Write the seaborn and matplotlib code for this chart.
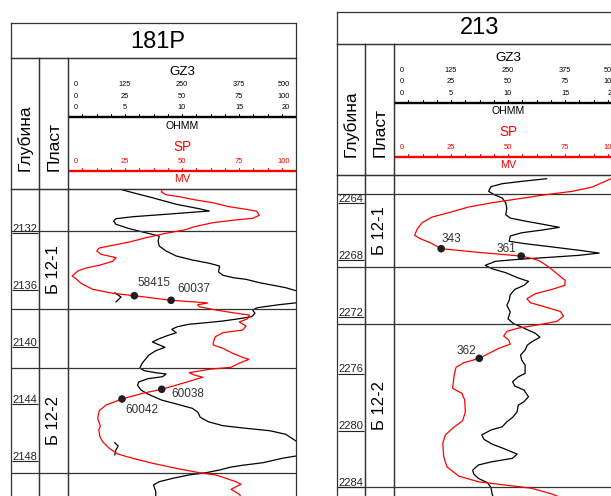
import matplotlib
matplotlib.use("Agg")
import matplotlib.pyplot as plt
import seaborn as sns

sns.set_theme(style="white")
plt.rcParams["font.family"] = ["Liberation Sans", "DejaVu Sans"]

# ---------------------------------------------------------------- well 181P
a_name = "181P"
a_depth_ticks = [2132, 2136, 2140, 2144, 2148]
a_zone_names = ["Б 12-1", "Б 12-2"]
a_zone_tops = [2131.88, 2141.47]
a_zone_bottoms = [2137.34, 2148.80]

a_gz_depth = [2128.92, 2129.20, 2129.55, 2130.01, 2130.32, 2130.48, 2130.71, 2130.88, 2131.02, 2131.18,
              2131.41, 2131.72, 2132.00, 2132.23, 2132.58, 2132.93, 2133.28, 2133.63, 2133.91, 2134.14,
              2134.33, 2134.75, 2134.98, 2135.15, 2135.26, 2135.50, 2135.68, 2135.85, 2136.08, 2136.45,
              2136.90, 2137.04, 2137.25, 2137.41, 2137.64, 2137.88, 2138.02, 2138.18, 2138.30, 2138.41,
              2138.58, 2138.76, 2139.00, 2139.18, 2139.42, 2139.65, 2140.02, 2140.26, 2140.56, 2141.14,
              2141.47, 2141.66, 2141.80, 2141.89, 2142.08, 2142.22, 2142.45, 2142.68, 2143.01, 2143.29,
              2143.71, 2144.01, 2144.29, 2144.57, 2144.92, 2145.23, 2145.51, 2145.69, 2145.86, 2146.11,
              2146.58, 2147.10, 2147.63, 2147.79, 2148.10, 2148.28, 2148.42, 2148.61, 2148.80, 2148.96,
              2149.19, 2149.43, 2149.66, 2150.13, 2150.60]
a_gz_ohmm = [4.4, 5.7, 7.4, 9.5, 11.5, 12.4, 8.6, 5.7, 4.2, 4.0,
             4.2, 5.4, 6.8, 8.0, 7.9, 8.0, 8.6, 9.5, 10.9, 12.4,
             13.3, 13.2, 13.6, 14.5, 15.6, 16.8, 18.0, 19.1, 20.1, 21.5,
             20.1, 18.5, 16.6, 16.2, 16.4, 16.1, 15.0, 13.6, 12.1, 10.6,
             9.6, 9.1, 9.5, 8.8, 8.0, 7.4, 8.5, 7.7, 7.1, 6.5,
             6.3, 6.7, 7.7, 8.6, 8.3, 7.0, 6.2, 6.1, 6.4, 7.0,
             8.2, 9.6, 10.9, 11.4, 11.6, 12.3, 13.6, 15.6, 17.7, 19.1,
             20.0, 21.5, 20.0, 18.8, 17.1, 15.3, 14.2, 13.3, 12.1, 10.6,
             9.2, 8.0, 7.5, 7.7, 7.7]

a_sp_depth = [2128.96, 2129.15, 2129.34, 2129.48, 2129.71, 2129.90, 2130.18, 2130.36, 2130.50, 2130.78,
              2130.99, 2131.13, 2131.30, 2131.58, 2131.81, 2132.04, 2132.35, 2132.65, 2132.88, 2133.07,
              2133.28, 2133.51, 2133.75, 2134.00, 2134.28, 2134.47, 2134.68, 2135.03, 2135.22, 2135.54,
              2135.96, 2136.24, 2136.41, 2136.73, 2136.87, 2136.92, 2137.04, 2137.18, 2137.41, 2137.60,
              2137.76, 2138.02, 2138.25, 2138.53, 2138.81, 2139.00, 2139.28, 2139.70, 2139.86, 2140.09,
              2140.44, 2140.72, 2140.86, 2141.14, 2141.42, 2141.56, 2141.80, 2141.96, 2142.12, 2142.54,
              2142.96, 2143.24, 2143.64, 2144.06, 2144.46, 2144.99, 2145.53, 2145.81, 2146.28, 2146.63,
              2147.09, 2147.49, 2147.79, 2148.14, 2148.49, 2148.80, 2148.96, 2149.43, 2149.61, 2149.96,
              2150.31, 2150.60]
a_sp_mv = [41.5, 40.9, 43.0, 48.8, 56.1, 63.5, 70.7, 78.1, 82.8, 83.9,
           81.0, 72.2, 63.5, 55.4, 51.0, 43.0, 34.2, 26.9, 19.6, 13.7,
           12.6, 14.5, 21.1, 19.6, 13.7, 7.9, 4.3, 1.8, 3.5, 5.7,
           10.8, 19.6, 29.1, 45.2, 57.6, 61.3, 56.9, 57.6, 64.9, 72.2,
           79.5, 78.8, 75.1, 78.1, 76.6, 67.9, 64.6, 63.7, 63.7, 67.9,
           72.2, 76.6, 79.3, 75.1, 71.5, 62.0, 53.2, 55.4, 59.1, 50.3,
           41.1, 32.8, 23.7, 16.7, 13.7, 13.0, 14.2, 13.5, 14.0, 15.2,
           18.1, 21.8, 28.4, 37.1, 47.4, 57.6, 64.9, 73.7, 75.9, 71.5,
           75.1, 76.5]

# short resistivity fragments next to the samples
a_frag1_depth = [2136.20, 2136.50, 2136.85]
a_frag1_ohmm = [4.1, 4.65, 4.2]
a_frag2_depth = [2146.70, 2146.93, 2147.21, 2147.56]
a_frag2_ohmm = [4.1, 4.4, 4.2, 4.1]

a_sample_ids = ["58415", "60037", "60038", "60042"]
a_sample_depth = [2136.41, 2136.73, 2142.96, 2143.64]
a_sample_sp = [29.1, 45.2, 41.1, 23.7]

# ---------------------------------------------------------------- well 213
b_name = "213"
b_depth_ticks = [2264, 2268, 2272, 2276, 2280, 2284]
b_zone_names = ["Б 12-1", "Б 12-2"]
b_zone_tops = [2263.39, 2272.51]
b_zone_bottoms = [2268.52, 2283.97]

b_gz_depth = [2262.29, 2262.45, 2262.64, 2262.85, 2263.18, 2263.42, 2263.65, 2263.98, 2264.40, 2264.82,
              2265.06, 2265.27, 2265.53, 2265.71, 2265.90, 2266.09, 2266.32, 2266.69, 2266.86, 2267.09,
              2267.35, 2267.52, 2267.68, 2267.82, 2267.96, 2268.10, 2268.38, 2268.62, 2268.90, 2269.27,
              2269.51, 2269.79, 2270.07, 2270.45, 2270.84, 2271.19, 2271.67, 2272.14, 2272.49, 2272.72,
              2273.02, 2273.16, 2273.44, 2273.75, 2273.99, 2274.34, 2274.69, 2275.04, 2275.39, 2275.98,
              2276.22, 2276.57, 2276.87, 2277.15, 2277.62, 2277.97, 2278.21, 2278.68, 2279.07, 2279.38,
              2279.73, 2279.96, 2280.31, 2280.62, 2280.95, 2281.32, 2281.65, 2281.95, 2282.19, 2282.42,
              2282.78, 2283.06, 2283.36, 2283.67, 2283.99, 2284.41, 2284.70]
b_gz_ohmm = [13.4, 11.5, 9.5, 8.5, 8.3, 8.8, 9.5, 9.8, 9.9, 9.8,
             10.2, 11.5, 13.3, 14.5, 13.0, 11.2, 10.2, 10.1, 11.5, 13.9,
             16.5, 18.0, 16.2, 13.6, 10.9, 8.9, 8.0, 8.6, 9.8, 10.9,
             11.8, 11.4, 10.6, 10.2, 10.1, 9.9, 10.2, 10.0, 10.5, 11.2,
             12.0, 12.4, 12.8, 12.1, 11.7, 11.5, 11.1, 11.2, 11.5, 11.5,
             10.9, 10.4, 10.6, 11.4, 11.8, 11.4, 10.9, 10.8, 10.4, 9.9,
             9.5, 8.5, 7.7, 7.9, 8.6, 9.8, 10.8, 10.4, 8.6, 7.4,
             6.9, 7.0, 7.4, 8.2, 8.5, 8.6, 8.7]

b_sp_depth = [2262.10, 2262.47, 2262.88, 2263.18, 2263.42, 2263.70, 2263.98, 2264.28, 2264.68, 2264.99,
              2265.39, 2265.85, 2266.27, 2266.51, 2266.79, 2267.21, 2267.45, 2267.73, 2267.96, 2268.10,
              2268.50, 2268.97, 2269.44, 2269.79, 2270.07, 2270.38, 2270.73, 2271.01, 2271.31, 2271.62,
              2271.95, 2272.32, 2272.56, 2272.79, 2273.02, 2273.35, 2273.63, 2273.92, 2274.22, 2274.92,
              2275.23, 2275.55, 2276.10, 2277.03, 2277.38, 2277.85, 2278.68, 2279.31, 2279.77, 2280.31,
              2280.90, 2281.84, 2282.54, 2283.20, 2283.60, 2283.83, 2284.06, 2284.46, 2284.70]
b_sp_mv = [98.0, 92.7, 86.8, 78.1, 66.4, 54.7, 43.0, 32.8, 24.0, 16.7,
           12.3, 10.1, 9.1, 11.5, 15.9, 20.7, 35.7, 55.8, 62.0, 64.2,
           67.9, 71.5, 75.1, 74.9, 69.3, 62.0, 58.3, 59.8, 66.4, 72.9,
           74.4, 71.5, 63.5, 54.7, 49.6, 48.1, 50.3, 51.0, 45.9, 37.4,
           30.6, 27.2, 26.4, 25.7, 29.8, 31.0, 31.3, 30.1, 26.2, 22.5,
           21.4, 21.8, 23.2, 28.4, 37.1, 48.8, 60.5, 69.3, 73.0]

b_sample_ids = ["343", "361", "362"]
b_sample_depth = [2267.21, 2267.73, 2274.92]
b_sample_sp = [20.7, 55.8, 37.4]

# scale annotations of the track header
gz_scale_rows = [["0", "125", "250", "375", "500"],
                 ["0", "25", "50", "75", "100"],
                 ["0", "5", "10", "15", "20"]]
sp_scale_row = ["0", "25", "50", "75", "100"]
GZ_MAX = 20.0
SP_MAX = 100.0

# ---------------------------------------------------------------- layout
FIG_W, FIG_H = 611, 496
LINE = "#333333"
RED = "#ff0000"
INK = "#1e1e1e"
COL_DEPTH, COL_ZONE, TRACK = 28.3, 28.7, 228.0

fig = plt.figure(figsize=(FIG_W / 100, FIG_H / 100), dpi=100)


def px_axes(x, y, w, h):
    ax = fig.add_axes([x / FIG_W, 1 - (y + h) / FIG_H, w / FIG_W, h / FIG_H])
    ax.set_xticks([])
    ax.set_yticks([])
    ax.set_facecolor("none")
    for sp in ax.spines.values():
        sp.set_color(LINE)
        sp.set_linewidth(0.9)
    return ax


def local(ax, w, h):
    ax.set_xlim(0, w)
    ax.set_ylim(h, 0)


def draw_track_header(ax, h):
    local(ax, TRACK, h)
    ax.text(TRACK / 2, 17, "GZ3", ha="center", va="baseline", fontsize=9.7, color="black")
    n = len(gz_scale_rows[0]) - 1
    for row, base in zip(gz_scale_rows, [27.8, 39.5, 51.0]):
        for i, lab in enumerate(row):
            x = i * TRACK / n
            if i == 0:
                ax.text(x + 5.5, base, lab, ha="left", va="baseline", fontsize=5.3, color="black")
            elif i == n:
                ax.text(x - 6, base, lab, ha="right", va="baseline", fontsize=5.3, color="black")
            else:
                ax.text(x, base, lab, ha="center", va="baseline", fontsize=5.3, color="black")
    for i, lab in enumerate(sp_scale_row):
        x = i * TRACK / n
        if i == 0:
            ax.text(x + 6, 104.7, lab, ha="left", va="baseline", fontsize=5.5, color=RED)
        elif i == n:
            ax.text(x - 6, 104.7, lab, ha="right", va="baseline", fontsize=5.5, color=RED)
        else:
            ax.text(x, 104.7, lab, ha="center", va="baseline", fontsize=5.5, color=RED)
    for y, col in [(58.8, "black"), (112.5, RED)]:
        ax.plot([0, TRACK], [y, y], color=col, lw=1.7, solid_capstyle="butt")
        for k in range(17):
            x = k * TRACK / 16
            ax.plot([x, x], [y, y - 3], color=col, lw=0.8)
    ax.text(TRACK / 2, 70.3, "OHMM", ha="center", va="baseline", fontsize=7.6, color="black")
    ax.text(TRACK / 2, 92.5, "SP", ha="center", va="baseline", fontsize=9.8, color=RED)
    ax.text(TRACK / 2, 124.2, "MV", ha="center", va="baseline", fontsize=7.8, color=RED)


def draw_well(left, top, title_h, header_bottom, title, title_dx, d_top, d_bottom,
              depth_ticks, zone_names, zone_tops, zone_bottoms,
              gz_depth, gz_ohmm, sp_depth, sp_mv,
              sample_ids, sample_depth, sample_sp, label_place, fragments=()):
    width = COL_DEPTH + COL_ZONE + TRACK
    x_zone = left + COL_DEPTH
    x_track = x_zone + COL_ZONE

    # title row
    ax_t = px_axes(left, top, width, title_h)
    local(ax_t, width, title_h)
    ax_t.text(width / 2 + title_dx, title_h - 10.3, title, ha="center", va="baseline",
              fontsize=17, color="black")

    # header row
    h_top = top + title_h
    hh = header_bottom - h_top
    ax_h1 = px_axes(left, h_top, COL_DEPTH, hh)
    local(ax_h1, COL_DEPTH, hh)
    ax_h1.text(COL_DEPTH / 2, hh - 18, "Глубина", rotation=90, ha="center", va="bottom",
               fontsize=12.5, color="black")
    ax_h2 = px_axes(x_zone, h_top, COL_ZONE, hh)
    local(ax_h2, COL_ZONE, hh)
    ax_h2.text(COL_ZONE / 2, hh - 18, "Пласт", rotation=90, ha="center", va="bottom",
               fontsize=12.5, color="black")
    ax_h3 = px_axes(x_track, h_top, TRACK, hh)
    draw_track_header(ax_h3, hh)

    # data rows
    dh = FIG_H - header_bottom
    ax_d = px_axes(left, header_bottom, COL_DEPTH, dh)
    ax_z = px_axes(x_zone, header_bottom, COL_ZONE, dh)
    ax_gz = px_axes(x_track, header_bottom, TRACK, dh)
    for ax in (ax_d, ax_z, ax_gz):
        ax.spines["bottom"].set_visible(False)

    ax_d.set_xlim(0, COL_DEPTH)
    ax_z.set_xlim(0, COL_ZONE)
    ax_gz.set_xlim(0, GZ_MAX)

    sns.lineplot(x=gz_ohmm, y=gz_depth, sort=False, estimator=None, color="black",
                 lw=0.9, ax=ax_gz)
    for f_depth, f_ohmm in fragments:
        sns.lineplot(x=f_ohmm, y=f_depth, sort=False, estimator=None, color="black",
                     lw=0.9, ax=ax_gz)

    ax_sp = ax_gz.twiny()
    ax_sp.set_xlim(0, SP_MAX)
    sns.lineplot(x=sp_mv, y=sp_depth, sort=False, estimator=None, color=RED, lw=0.9, ax=ax_sp)
    sns.scatterplot(x=sample_sp, y=sample_depth, color=INK, s=30, edgecolor="none",
                    zorder=5, ax=ax_sp)
    for sid, d, v, (ha, dx, dy) in zip(sample_ids, sample_depth, sample_sp, label_place):
        ax_sp.annotate(sid, (v, d), xytext=(dx, dy), textcoords="offset pixels",
                       ha=ha, va="baseline", fontsize=8.5, color="#333333")
    ax_sp.set_xticks([])
    for sp in ax_sp.spines.values():
        sp.set_visible(False)

    for ax in (ax_d, ax_z, ax_gz, ax_sp):
        ax.set_ylim(d_bottom, d_top)
        ax.set_xlabel("")
        ax.set_ylabel("")
        ax.set_yticks([])

    # zone boundaries and names
    for b in list(zone_tops) + list(zone_bottoms):
        for ax in (ax_d, ax_z, ax_gz):
            ax.axhline(b, color=LINE, lw=0.9)
    for name, zt, zb in zip(zone_names, zone_tops, zone_bottoms):
        ax_z.text(COL_ZONE / 2, (zt + zb) / 2, name, rotation=90, ha="center", va="center",
                  fontsize=12, color="black")

    # depth marks
    for d in depth_ticks:
        ax_d.hlines(d, 1.0, COL_DEPTH - 1.3, color="#222222", lw=0.8)
        ax_d.annotate(str(d), (1.0, d), xytext=(0, 1.2), textcoords="offset pixels",
                      ha="left", va="baseline", fontsize=8, color="#222222")


draw_well(11, 22.7, 35.6, 189, a_name, 4.7, 2128.94, 2150.43,
          a_depth_ticks, a_zone_names, a_zone_tops, a_zone_bottoms,
          a_gz_depth, a_gz_ohmm, a_sp_depth, a_sp_mv,
          a_sample_ids, a_sample_depth, a_sample_sp,
          [("left", 3.4, 9.7), ("left", 6, 8), ("left", 10, -7.7), ("left", 3, -13.7)],
          fragments=[(a_frag1_depth, a_frag1_ohmm), (a_frag2_depth, a_frag2_ohmm)])

draw_well(337, 11.7, 32.3, 175, b_name, 0, 2262.03, 2284.60,
          b_depth_ticks, b_zone_names, b_zone_tops, b_zone_bottoms,
          b_gz_depth, b_gz_ohmm, b_sp_depth, b_sp_mv,
          b_sample_ids, b_sample_depth, b_sample_sp,
          [("left", 0.6, 6.3), ("right", -5.3, 4.3), ("right", -3.6, 4.0)])

fig.savefig("out.png", dpi=100, facecolor="white")
